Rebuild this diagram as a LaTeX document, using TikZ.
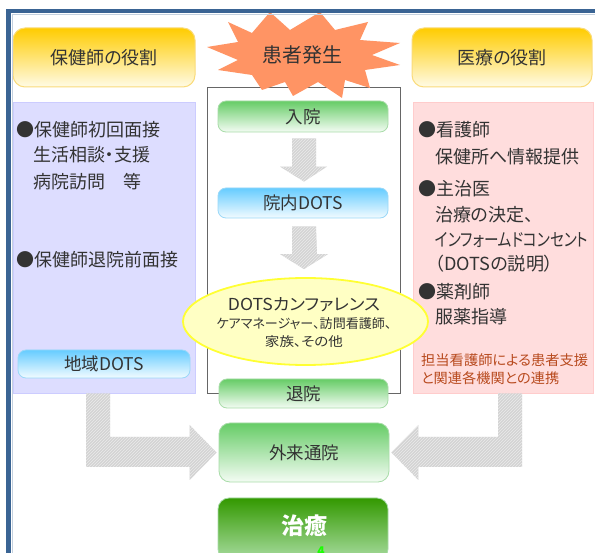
\documentclass[tikz,border=0pt]{standalone}
\usepackage{graphicx}
\usepackage{fontspec}
\setmainfont[RawFeature=+palt]{Noto Sans CJK JP}
\usetikzlibrary{shapes.geometric,patterns,calc}
\definecolor{txt}{HTML}{333333}
\definecolor{frameblue}{HTML}{3A6494}
\definecolor{hdrtop}{HTML}{FFCC00}
\definecolor{hdrbot}{HTML}{FFFBE6}
\definecolor{hdrdraw}{HTML}{FADB7A}
\definecolor{gtop}{HTML}{66CC66}
\definecolor{gbot}{HTML}{F4FCF4}
\definecolor{gdraw}{HTML}{A8DCA8}
\definecolor{btop}{HTML}{66CCFF}
\definecolor{bbot}{HTML}{F2FBFF}
\definecolor{bdraw}{HTML}{9AD8F8}
\definecolor{lavfill}{HTML}{DDDDFF}
\definecolor{lavdraw}{HTML}{CCCCFF}
\definecolor{pinkfill}{HTML}{FFDDDD}
\definecolor{pinkdraw}{HTML}{FFCCCC}
\definecolor{elfill}{HTML}{FFFFC4}
\definecolor{eldraw}{HTML}{FFFF33}
\definecolor{redtxt}{HTML}{B84A1E}
\definecolor{starfill}{HTML}{FF9464}
\definecolor{dgtop}{HTML}{339900}
\definecolor{dgbot}{HTML}{A8DCA0}
\definecolor{hatchbg}{HTML}{D4D4D4}
\definecolor{hatchfg}{HTML}{EAEAEA}
\tikzset{
  hdr/.style={rounded corners=12pt, draw=hdrdraw, line width=1pt, top color=hdrtop, bottom color=hdrbot,
    minimum width=182pt, minimum height=59pt, inner sep=0pt, text=txt, font=\fontsize{18}{20}\selectfont},
  panel/.style={minimum width=182pt, minimum height=291pt, inner sep=0pt, line width=0.8pt},
  gbox/.style={rounded corners=8pt, draw=gdraw, line width=0.8pt, top color=gtop, bottom color=gbot,
    minimum width=170pt, inner sep=0pt, text=txt, font=\fontsize{17.5}{19}\selectfont},
  bbox/.style={rounded corners=8pt, draw=bdraw, line width=0.8pt, top color=btop, bottom color=bbot,
    minimum width=170pt, inner sep=0pt, text=txt, font=\fontsize{17.5}{19}\selectfont},
  txtl/.style={anchor=west, inner sep=0pt, text=txt, font=\fontsize{18}{20}\selectfont},
  redl/.style={anchor=west, inner sep=0pt, text=redtxt, font=\fontsize{14}{16}\selectfont},
  eltxt/.style={inner sep=0pt, text=txt},
  hatch/.style={preaction={fill=hatchbg}, pattern=north east lines, pattern color=hatchfg}
}
\begin{document}
\begin{tikzpicture}[x=1pt,y=-1pt]
\useasboundingbox (0,0) rectangle (595,553);
\fill[white] (0,0) rectangle (595,553);

% headers
\node[hdr] (hdrL) at (104,57.5) {保健師の役割};
\node[hdr, minimum width=180pt] (hdrR) at (502,57.5) {医療の役割};

% side panels
\node[panel, fill=lavfill, draw=lavdraw] (panelL) at (104,247.5) {};
\node[panel, minimum width=180pt, fill=pinkfill, draw=pinkdraw] (panelR) at (503,247.5) {};

% center box
\node[draw=gray!80!black, line width=0.8pt, minimum width=193pt, minimum height=306pt, inner sep=0pt] (cbox) at (303.5,240) {};

% star
\path[fill=starfill] (207,47) -- (238,42) -- (228,22) -- (252,33) -- (270,12) -- (290,30) -- (320,12)
  -- (335,30) -- (368,22) -- (360,40) -- (400,43) -- (372,55) -- (400,65) -- (365,70) -- (370,88)
  -- (345,80) -- (342,98) -- (318,82) -- (293,96) -- (285,82) -- (262,90) -- (252,75) -- (218,70)
  -- (238,60) -- cycle;
\node[text=txt, font=\fontsize{20}{22}\selectfont, inner sep=0pt] (star) at (302,55) {患者発生};

% frame
\draw[frameblue, line width=4.5pt] (8.5,560) -- (8.5,11) -- (600,11);
\draw[frameblue!30, line width=0.8pt] (12,560) -- (12,14) -- (600,14);

% flow boxes
\node[gbox, minimum height=31pt] (nyuin) at (303,116.5) {入院};
\node[bbox, minimum height=30pt] (innai) at (303,203) {院内DOTS};
\node[gbox, minimum width=169pt, minimum height=29pt] (taiin) at (303.5,393.5) {退院};
\node[gbox, rounded corners=11pt, minimum height=59pt] (gairai) at (304,452.5) {外来通院};
\node[rounded corners=11pt, draw=gdraw, line width=0.8pt, top color=dgtop, bottom color=dgbot,
  minimum width=170pt, minimum height=62pt, inner sep=0pt] (chiyu) at (303,529) {};
\node[text=white, font=\bfseries\fontsize{23}{25}\selectfont, inner sep=0pt] (chiyut) at (304,526) {治癒};
\node[text=green!90!yellow, font=\bfseries\fontsize{12}{12}\selectfont, inner sep=0pt] (mark) at (321,551) {4};

% down arrows
\path[hatch] ($(nyuin.south)+(-11,6)$) -- ++(24,0) -- ($(innai.north)+(13,-21)$) -- ++(11,0)
  -- ($(innai.north)+(1,-6)$) -- ($(innai.north)+(-23,-21)$) -- ++(12,0) -- cycle;

% conference ellipse
\node[ellipse, draw=eldraw, line width=1.8pt, fill=elfill, minimum width=245pt, minimum height=87pt,
  inner sep=0pt] (conf) at (305.5,321.5) {};
\node[eltxt, font=\fontsize{16.5}{18}\selectfont] (conf1) at (304,305) {\resizebox{152pt}{\height}{DOTSカンファレンス}};
\node[eltxt, font=\fontsize{13}{14}\selectfont] (conf2) at (304,324) {\resizebox{175pt}{\height}{ケアマネージャー、訪問看護師、}};
\node[eltxt, font=\fontsize{13}{14}\selectfont] (conf3) at (304,342) {\resizebox{78pt}{\height}{家族、その他}};

\path[hatch] ($(innai.south)+(-11,8)$) -- ++(24,0) -- ($(conf.north)+(11.5,-23)$) -- ++(11,0)
  -- ($(conf.north)+(-1.5,-8)$) -- ($(conf.north)+(-25.5,-23)$) -- ++(12,0) -- cycle;

% left panel texts
\node[txtl] (l1) at (16,130) {●保健師初回面接};
\node[txtl] (l2) at (33,155) {生活相談・支援};
\node[txtl] (l3) at (33,182) {病院訪問\hspace{1em}等};
\node[txtl] (l4) at (16,260) {●保健師退院前面接};
\node[bbox, minimum width=172pt, minimum height=28pt] (chiiki) at (104,364) {地域DOTS};

% right panel texts
\node[txtl] (r1) at (418,130) {●看護師};
\node[txtl] (r2) at (435,157) {保健所へ情報提供};
\node[txtl] (r3) at (418,189) {●主治医};
\node[txtl] (r4) at (435,215) {治療の決定、};
\node[txtl] (r5) at (435,240) {\resizebox{153pt}{\height}{インフォームドコンセント}};
\node[txtl] (r6) at (435,264) {\resizebox{118pt}{\height}{（DOTSの説明）}};
\node[txtl] (r7) at (418,292) {●薬剤師};
\node[txtl] (r8) at (435,317) {服薬指導};
\node[redl] (r9) at (421,360) {\resizebox{167pt}{\height}{担当看護師による患者支援}};
\node[redl] (r10) at (421,378) {\resizebox{138pt}{\height}{と関連各機関との連携}};

% L-shaped arrows
\coordinate (la) at ($(panelL.south)+(-18,0)$);
\coordinate (lb) at ($(gairai.west)+(-29,14.5)$);
\path[hatch] (la) -- ++(24,0) |- ($(gairai.west)+(-29,-15.5)$) -- ++(0,-12)
  -- ($(gairai.west)+(-2,0)$) -- ($(gairai.west)+(-29,27.5)$) -- (lb) -- (la |- lb) -- cycle;

\coordinate (ra) at ($(panelR.south)+(19,0)$);
\coordinate (rb) at ($(gairai.east)+(29,14.5)$);
\path[hatch] (ra) -- ++(-24,0) |- ($(gairai.east)+(29,-15.5)$) -- ++(0,-12)
  -- ($(gairai.east)+(2,0)$) -- ($(gairai.east)+(29,27.5)$) -- (rb) -- (ra |- rb) -- cycle;
\end{tikzpicture}
\end{document}
